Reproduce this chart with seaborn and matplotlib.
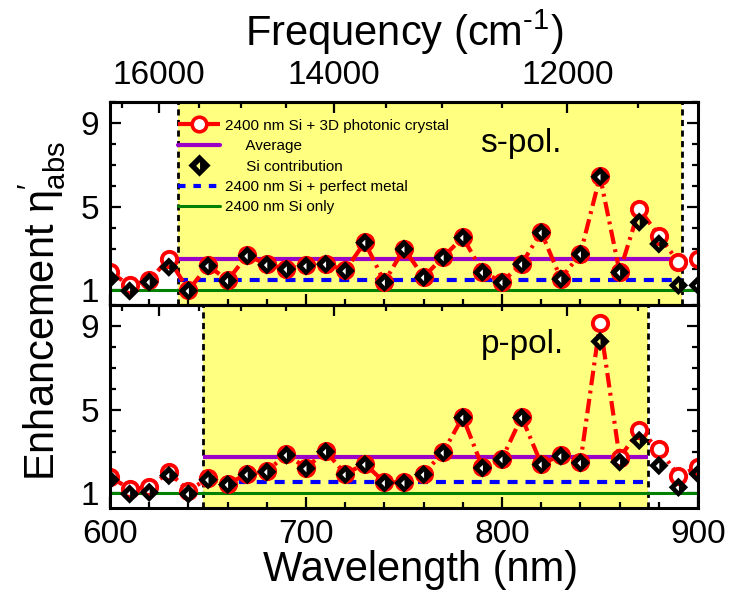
import numpy as np
import matplotlib
matplotlib.use('Agg')
import matplotlib.pyplot as plt
import seaborn as sns
from matplotlib.path import Path
from matplotlib.lines import Line2D
from matplotlib.ticker import MultipleLocator, FixedLocator, NullFormatter

# ---------------- data ----------------
wavelength = [600, 610, 620, 630, 640, 650, 660, 670, 680, 690, 700,
              710, 720, 730, 740, 750, 760, 770, 780, 790, 800,
              810, 820, 830, 840, 850, 860, 870, 880, 890, 900]

s_crystal = [1.88, 1.24, 1.48, 2.51, 1.00, 2.19, 1.48, 2.67, 2.24, 2.03, 2.19,
             2.27, 1.95, 3.30, 1.40, 2.99, 1.64, 2.59, 3.54, 1.88, 1.40,
             2.27, 3.78, 1.56, 2.75, 6.45, 1.88, 4.89, 3.62, 2.35, 2.51]
s_si = [1.56, 0.97, 1.40, 2.11, 0.98, 2.17, 1.46, 2.65, 2.22, 2.01, 2.17,
        2.25, 1.93, 3.28, 1.38, 2.97, 1.62, 2.57, 3.52, 1.86, 1.38,
        2.25, 3.76, 1.54, 2.73, 6.43, 1.86, 4.26, 3.22, 1.24, 1.24]

p_crystal = [1.80, 1.21, 1.29, 2.01, 1.13, 1.72, 1.45, 1.93, 2.06, 2.86, 2.22,
             3.02, 1.93, 2.41, 1.53, 1.53, 1.93, 2.97, 4.65, 2.25, 2.65,
             4.65, 2.41, 2.81, 2.49, 9.14, 2.70, 4.01, 3.13, 1.85, 2.25]
p_si = [1.65, 0.97, 1.05, 1.85, 0.97, 1.65, 1.42, 1.90, 2.03, 2.83, 2.19,
        2.99, 1.90, 2.38, 1.50, 1.50, 1.90, 2.94, 4.62, 2.22, 2.62,
        4.62, 2.38, 2.78, 2.46, 8.26, 2.50, 3.53, 2.33, 1.29, 1.93]

s_average = 2.48
p_average = 2.76
s_metal = 1.48
p_metal = 1.53
si_only = 1.0
s_band = (634.7, 892.0)
p_band = (647.4, 874.5)

panel_labels = ['s-pol.', 'p-pol.']
legend_labels = ['2400 nm Si + 3D photonic crystal',
                 '     Average',
                 '     Si contribution',
                 '2400 nm Si + perfect metal',
                 '2400 nm Si only']
freq_major = [16000, 14000, 12000]

# ---------------- style ----------------
sns.set_theme(style='ticks')
plt.rcParams['font.family'] = ['Liberation Sans', 'DejaVu Sans']
plt.rcParams['mathtext.fontset'] = 'custom'
plt.rcParams['mathtext.rm'] = 'Liberation Sans'
plt.rcParams['mathtext.it'] = 'Liberation Sans'
plt.rcParams['text.color'] = 'black'
plt.rcParams['axes.labelcolor'] = 'black'

RED = '#FF0000'
PURPLE = '#9A00C8'
BLUE = '#0000FF'
GREEN = '#008000'
YELLOW = '#FFFF80'

# diamond with small white left-pointing triangle
verts = [(0, 1), (-1, 0), (0, -1), (1, 0), (0, 1),
         (0.05, 0.31), (0.05, -0.40), (-0.30, -0.03), (0.05, 0.31)]
codes = [Path.MOVETO, Path.LINETO, Path.LINETO, Path.LINETO, Path.CLOSEPOLY,
         Path.MOVETO, Path.LINETO, Path.LINETO, Path.CLOSEPOLY]
diamond = Path(verts, codes)

red_ls = (0, (3.5, 1.3, 0.7, 1.3))
blue_ls = (0, (2.4, 1.9))
TICK = 24
LW_FRAME = 2.2


def inv(x):
    x = np.asarray(x, dtype=float)
    with np.errstate(divide='ignore'):
        return 1e7 / x


fig = plt.figure(figsize=(7.29, 6.03), dpi=100)
ax1 = fig.add_axes([0.1509, 0.4942, 0.8066, 0.3366])
ax2 = fig.add_axes([0.1509, 0.1575, 0.8066, 0.3367])

panels = [(ax1, s_crystal, s_si, s_average, s_metal, s_band, panel_labels[0], 7.6),
          (ax2, p_crystal, p_si, p_average, p_metal, p_band, panel_labels[1], 7.7)]

for ax, cry, si, avg, met, band, lab, ylab in panels:
    ax.set_facecolor('white')
    ax.axvspan(band[0], band[1], color=YELLOW, lw=0, zorder=0)
    for b in band:
        ax.axvline(b, color='black', lw=2.0, ls=(0, (2.2, 1.6)), zorder=1)
    ax.axhline(si_only, color=GREEN, lw=2.2, zorder=2)
    ax.hlines(met, band[0], band[1], color=BLUE, lw=3.0, linestyles=[blue_ls], zorder=2)
    ax.hlines(avg, band[0], band[1], color=PURPLE, lw=3.0, zorder=2)
    sns.lineplot(x=wavelength, y=cry, ax=ax, color=RED, lw=3.0, linestyle=red_ls,
                 marker='o', markersize=11, markerfacecolor='white',
                 markeredgecolor=RED, markeredgewidth=2.8, zorder=3, sort=False)
    sns.scatterplot(x=wavelength, y=si, ax=ax, marker=diamond, s=195,
                    color='black', edgecolor='none', linewidth=0, zorder=4)
    ax.text(789.0, ylab, lab, fontsize=24, ha='left', va='baseline', zorder=5)

    ax.set_xlim(600, 900)
    ax.set_ylim(0.3, 10)
    ax.set_yticks([1, 5, 9])
    ax.yaxis.set_minor_locator(MultipleLocator(1))
    ax.xaxis.set_major_locator(MultipleLocator(100))
    ax.xaxis.set_minor_locator(MultipleLocator(20))
    ax.tick_params(axis='both', which='both', direction='in', width=1.6,
                   labelsize=TICK, colors='black')
    ax.tick_params(axis='both', which='major', length=8, pad=8)
    ax.tick_params(axis='both', which='minor', length=4.5)
    ax.tick_params(axis='y', which='both', left=True, right=True, labelleft=True)
    ax.tick_params(axis='x', which='both', top=False, bottom=True)
    for sp in ax.spines.values():
        sp.set_linewidth(LW_FRAME)
        sp.set_color('black')
        sp.set_zorder(6)
    ax.set_xlabel('')
    ax.set_ylabel('')

    sec = ax.secondary_xaxis('top', functions=(inv, inv))
    sec.set_xticks(freq_major)
    sec.xaxis.set_minor_locator(FixedLocator(np.arange(11500, 17000, 500)))
    sec.tick_params(axis='x', which='both', direction='in', width=1.6,
                    labelsize=TICK, colors='black', pad=8)
    sec.tick_params(axis='x', which='major', length=8)
    sec.tick_params(axis='x', which='minor', length=4.5)
    sec.spines['top'].set_linewidth(LW_FRAME)
    sec.spines['top'].set_color('black')
    if ax is ax2:
        sec.xaxis.set_major_formatter(NullFormatter())
    else:
        sec.set_xlabel('Frequency (cm$^{\u2010\\mathrm{1}}$)', fontsize=30, labelpad=10,
                       color='black')

ax1.tick_params(axis='x', labelbottom=False)

handles = [
    Line2D([], [], color=RED, lw=3.0, linestyle=red_ls, marker='o', markersize=10.5,
           markerfacecolor='white', markeredgecolor=RED, markeredgewidth=2.6),
    Line2D([], [], color=PURPLE, lw=3.0),
    Line2D([], [], color='black', lw=0, marker=diamond, markersize=16,
           markeredgewidth=0),
    Line2D([], [], color=BLUE, lw=3.0, linestyle=(0, (1.8, 1.9))),
    Line2D([], [], color=GREEN, lw=2.2),
]
ax1.legend(handles, legend_labels, loc='upper left', bbox_to_anchor=(0.115, 0.918),
           frameon=False, fontsize=11, handlelength=2.8, handletextpad=0.3,
           labelspacing=0.42, borderpad=0, borderaxespad=0, numpoints=1,
           labelcolor='black')

fig.text(0.058, 1 - 311 / 603, 'Enhancement η$^{\\prime}_{\\rm abs}$', rotation=90,
         fontsize=30, ha='center', va='center', color='black')
fig.text(421 / 729, 1 - 570 / 603, 'Wavelength (nm)', fontsize=30,
         ha='center', va='center', color='black')

fig.savefig('out.png', dpi=100)
